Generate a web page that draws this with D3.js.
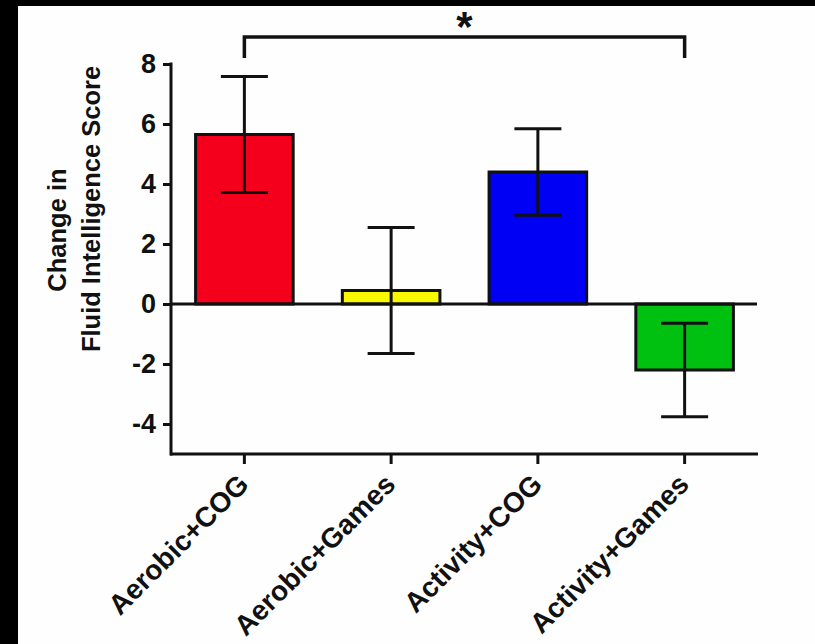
<!DOCTYPE html>
<html>
<head>
<meta charset="utf-8">
<script src="https://cdn.jsdelivr.net/npm/d3@7"></script>
<style>
  html, body { margin: 0; padding: 0; background: #000; overflow: hidden; }
  svg { display: block; }
  text { font-family: "Liberation Sans", Arial, Helvetica, sans-serif; font-weight: bold; fill: #111; }
</style>
</head>
<body>
<div id="chart"></div>
<script>
// Group names, mean change and error (SEM)
const groups = ["Aerobic+COG", "Aerobic+Games", "Activity+COG", "Activity+Games"];
const means = [5.65, 0.45, 4.4, -2.2];
const errors = [1.93, 2.1, 1.44, 1.56];
const colors = ["#f5001c", "#f8f800", "#0000f5", "#00c010"];
const yTicks = [-4, -2, 0, 2, 4, 6, 8];
const yTitle = ["Change in", "Fluid Intelligence Score"];
// significance bracket between first and last group
const sigPair = ["Aerobic+COG", "Activity+Games"];
const sigLabel = "*";

const W = 815, H = 644;
const data = groups.map((g, i) => ({ group: g, mean: means[i], err: errors[i], color: colors[i] }));

const svg = d3.select("#chart").append("svg")
    .attr("width", W)
    .attr("height", H);

// white panel inside the black frame
svg.append("rect")
    .attr("x", 18).attr("y", 6)
    .attr("width", W - 18).attr("height", H - 6)
    .attr("fill", "#fefefe");

// scales
const x = d3.scaleBand()
    .domain(groups)
    .range([171, 758])
    .paddingInner(0.335)
    .paddingOuter(0.1675);

const y = d3.scaleLinear()
    .domain([-5, 8])
    .range([454, 64]);

const ink = "#111";

// bars
svg.append("g").selectAll("rect")
    .data(data)
    .enter()
    .append("rect")
    .attr("x", d => x(d.group))
    .attr("y", d => y(Math.max(0, d.mean)))
    .attr("width", x.bandwidth())
    .attr("height", d => Math.abs(y(d.mean) - y(0)))
    .attr("fill", d => d.color)
    .attr("stroke", ink)
    .attr("stroke-width", 3);

// zero line
svg.append("line")
    .attr("x1", 171).attr("x2", 757)
    .attr("y1", y(0)).attr("y2", y(0))
    .attr("stroke", ink)
    .attr("stroke-width", 3);

// error bars
const capW = 47;
const eb = svg.append("g").selectAll("g")
    .data(data)
    .enter()
    .append("g")
    .attr("stroke", ink)
    .attr("stroke-width", 3);

eb.append("line")
    .attr("x1", d => x(d.group) + x.bandwidth() / 2)
    .attr("x2", d => x(d.group) + x.bandwidth() / 2)
    .attr("y1", d => y(d.mean + d.err))
    .attr("y2", d => y(d.mean - d.err));
eb.append("line")
    .attr("x1", d => x(d.group) + x.bandwidth() / 2 - capW / 2)
    .attr("x2", d => x(d.group) + x.bandwidth() / 2 + capW / 2)
    .attr("y1", d => y(d.mean + d.err))
    .attr("y2", d => y(d.mean + d.err));
eb.append("line")
    .attr("x1", d => x(d.group) + x.bandwidth() / 2 - capW / 2)
    .attr("x2", d => x(d.group) + x.bandwidth() / 2 + capW / 2)
    .attr("y1", d => y(d.mean - d.err))
    .attr("y2", d => y(d.mean - d.err));

// y axis
const yAxis = svg.append("g")
    .attr("transform", "translate(171,0)")
    .call(d3.axisLeft(y).tickValues(yTicks).tickFormat(d => String(d))
        .tickSize(8).tickPadding(7).tickSizeOuter(0));
yAxis.select(".domain").remove();
yAxis.append("line")
    .attr("x1", 0).attr("x2", 0)
    .attr("y1", y(8) - 1.5).attr("y2", y(-5) + 1.5)
    .attr("stroke", ink).attr("stroke-width", 3);
yAxis.selectAll(".tick line").attr("stroke", ink).attr("stroke-width", 3);
yAxis.selectAll(".tick text")
    .attr("fill", ink)
    .style("font-size", "27px")
    .style("font-weight", "bold")
    .style("font-family", "'Liberation Sans', Arial, sans-serif");

// x axis
const xAxis = svg.append("g")
    .attr("transform", `translate(0,${y(-5)})`)
    .call(d3.axisBottom(x).tickSize(10).tickSizeOuter(0));
xAxis.select(".domain").remove();
xAxis.append("line")
    .attr("x1", 170).attr("x2", 758)
    .attr("y1", 0).attr("y2", 0)
    .attr("stroke", ink).attr("stroke-width", 3);
xAxis.selectAll(".tick line").attr("stroke", ink).attr("stroke-width", 3);
xAxis.selectAll(".tick text")
    .attr("fill", ink)
    .attr("text-anchor", "end")
    .attr("dy", 0)
    .attr("y", 0)
    .attr("transform", "translate(6,32) rotate(-45)")
    .style("font-size", "28px")
    .style("font-weight", "bold")
    .style("font-family", "'Liberation Sans', Arial, sans-serif");

// y title, two lines (rotated)
const titlePos = [{ x: 66, y: 230 }, { x: 100, y: 209 }];
svg.append("g").selectAll("text")
    .data(yTitle)
    .enter()
    .append("text")
    .attr("transform", (d, i) => `translate(${titlePos[i].x},${titlePos[i].y}) rotate(-90)`)
    .attr("text-anchor", "middle")
    .style("font-size", "25.5px")
    .text(d => d);

// significance bracket
const bx1 = x(sigPair[0]) + x.bandwidth() / 2;
const bx2 = x(sigPair[1]) + x.bandwidth() / 2;
svg.append("path")
    .attr("d", `M${bx1},58 V37 H${bx2} V58`)
    .attr("fill", "none")
    .attr("stroke", ink)
    .attr("stroke-width", 3.5);
svg.append("text")
    .attr("x", (bx1 + bx2) / 2)
    .attr("y", 41)
    .attr("text-anchor", "middle")
    .style("font-size", "42px")
    .text(sigLabel);
</script>
</body>
</html>
